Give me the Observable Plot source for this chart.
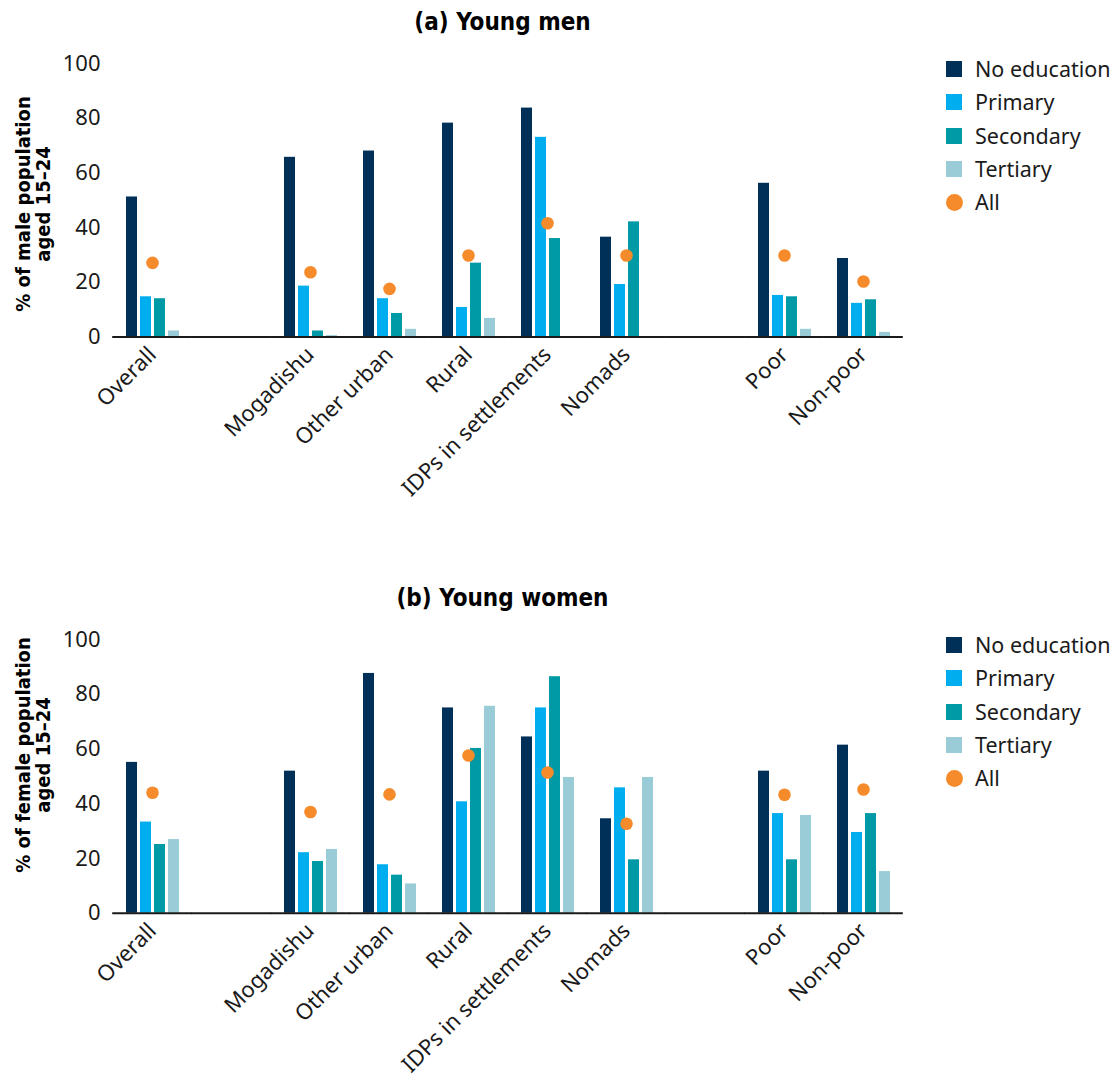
<!DOCTYPE html>
<html>
<head>
<meta charset="utf-8">
<script src="https://cdn.jsdelivr.net/npm/d3@7"></script>
<script src="https://cdn.jsdelivr.net/npm/@observablehq/plot@0.6"></script>
<style>
  html, body { margin: 0; padding: 0; background: #fff; }
  #root { position: relative; width: 1115px; height: 1091px; overflow: hidden; font-family: "Noto Sans", sans-serif; color: #1a1a1a; }
  .title { position: absolute; left: 0; width: 1005px; text-align: center; font-family: "DejaVu Sans Condensed", "DejaVu Sans", sans-serif; font-stretch: condensed; font-weight: bold; font-size: 24px; line-height: 28px; color: #000; }
  .ytitle { position: absolute; width: 320px; text-align: center; font-family: "DejaVu Sans Condensed", "DejaVu Sans", sans-serif; font-stretch: condensed; font-weight: bold; font-size: 20px; line-height: 20px; color: #000; transform: rotate(-90deg); transform-origin: 50% 50%; }
  .chart { position: absolute; left: 0; }
  .legend { position: absolute; left: 946px; font-size: 21.5px; color: #1a1a1a; }
  .legend .item { position: absolute; left: 0; height: 20px; white-space: nowrap; }
  .legend .sw { position: absolute; left: 0; top: 2px; width: 16px; height: 16px; }
  .legend .sw.dot { border-radius: 50%; width: 17px; height: 17px; top: 1.5px; }
  .legend .lab { position: absolute; left: 29px; top: -5px; line-height: 30px; }
</style>
</head>
<body>
<div id="root"></div>
<script>
// ---- data ----
const categories = ["Overall", "Mogadishu", "Other urban", "Rural", "IDPs in settlements", "Nomads", "Poor", "Non-poor"];
const slots = ["Overall", "gap1", "Mogadishu", "Other urban", "Rural", "IDPs in settlements", "Nomads", "gap2", "Poor", "Non-poor"];
const levels = ["No education", "Primary", "Secondary", "Tertiary"];
const allLabel = "All";
const yTicks = [0, 20, 40, 60, 80, 100];

const menNoEducation = [51.2, 65.7, 68.0, 78.2, 83.7, 36.5, 56.2, 28.7];
const menPrimary     = [14.7, 18.6, 14.0, 10.8, 73.0, 19.2, 15.2, 12.3];
const menSecondary   = [14.0, 2.2, 8.6, 27.0, 36.0, 42.1, 14.7, 13.6];
const menTertiary    = [2.2, 0.5, 2.8, 6.8, null, null, 2.8, 1.7];
const menAll         = [27.1, 23.7, 17.6, 29.8, 41.6, 29.8, 29.8, 20.3];

const womenNoEducation = [55.1, 51.9, 87.6, 75.0, 64.4, 34.5, 51.9, 61.4];
const womenPrimary     = [33.3, 22.1, 17.7, 40.7, 75.0, 45.8, 36.4, 29.5];
const womenSecondary   = [25.1, 18.9, 13.9, 60.2, 86.4, 19.5, 19.5, 36.4];
const womenTertiary    = [26.9, 23.3, 10.7, 75.6, 49.6, 49.6, 35.7, 15.2];
const womenAll         = [44.0, 37.0, 43.4, 57.6, 51.4, 32.7, 43.3, 45.2];

const colors = ["#003057", "#00AEEF", "#009AA6", "#99CCD6"];
const allColor = "#F68B2C";

// ---- helpers ----
function longRows(series) {
  const rows = [];
  categories.forEach((c, i) => {
    levels.forEach((l, j) => {
      const v = series[j][i];
      if (v != null) rows.push({cat: c, level: l, value: v});
    });
  });
  return rows;
}
function allRows(arr) { return categories.map((c, i) => ({cat: c, value: arr[i]})); }

function makeChart({series, all, height, marginTop, marginBottom}) {
  return Plot.plot({
    width: 1115,
    height,
    marginLeft: 111,
    marginRight: 212,
    marginTop,
    marginBottom,
    style: {fontFamily: "'Noto Sans', sans-serif", fontSize: "22px", color: "#1a1a1a", background: "transparent", overflow: "visible"},
    fx: {domain: slots, paddingInner: 0.32, paddingOuter: 0.12, align: 0.5, label: null,
         tickRotate: -45, tickSize: 0, tickPadding: 14,
         tickFormat: d => d.startsWith("gap") ? "" : d},
    x: {domain: levels, paddingInner: 0.24, paddingOuter: 0, axis: null},
    y: {domain: [0, 100], ticks: yTicks, tickSize: 0, tickPadding: 25, label: null},
    color: {domain: levels, range: colors},
    marks: [
      Plot.barY(longRows(series), {fx: "cat", x: "level", y: "value", fill: "level"}),
      Plot.ruleY(slots.map(s => ({cat: s})), {fx: "cat", y: () => 0, insetLeft: -12.8, insetRight: -12.8, stroke: "#1a1a1a", strokeWidth: 2}),
      Plot.dot(allRows(all), {fx: "cat", y: "value", r: 6.3, fill: allColor, stroke: "none"})
    ]
  });
}

const root = document.getElementById("root");

function addTitle(text, top) {
  const d = document.createElement("div");
  d.className = "title"; d.textContent = text; d.style.top = top + "px";
  root.appendChild(d);
}
function addYTitle(lines, cx, cy) {
  const d = document.createElement("div");
  d.className = "ytitle";
  d.innerHTML = lines.map(s => `<div>${s}</div>`).join("");
  d.style.left = (cx - 160) + "px";
  d.style.top = (cy - 20) + "px";
  root.appendChild(d);
}
function addLegend(top) {
  const lg = document.createElement("div");
  lg.className = "legend"; lg.style.top = top + "px";
  const items = levels.map((l, i) => ({label: l, color: colors[i], dot: false}))
    .concat([{label: allLabel, color: allColor, dot: true}]);
  items.forEach((it, i) => {
    const row = document.createElement("div");
    row.className = "item"; row.style.top = (i * 33.3) + "px";
    row.innerHTML = `<span class="sw${it.dot ? " dot" : ""}" style="background:${it.color}"></span><span class="lab">${it.label}</span>`;
    lg.appendChild(row);
  });
  root.appendChild(lg);
}

// Chart (a)
addTitle("(a) Young men", 8);
const c1 = makeChart({series: [menNoEducation, menPrimary, menSecondary, menTertiary], all: menAll, height: 500, marginTop: 23, marginBottom: 203.5});
c1.classList.add("chart"); c1.style.top = "40px";
root.appendChild(c1);
addYTitle(["% of male population", "aged 15–24"], 33, 204);
addLegend(59);

// Chart (b)
addTitle("(b) Young women", 584);
const c2 = makeChart({series: [womenNoEducation, womenPrimary, womenSecondary, womenTertiary], all: womenAll, height: 476, marginTop: 24, marginBottom: 178.3});
c2.classList.add("chart"); c2.style.top = "615px";
root.appendChild(c2);
addYTitle(["% of female population", "aged 15–24"], 33, 755);
addLegend(635);
</script>
</body>
</html>
